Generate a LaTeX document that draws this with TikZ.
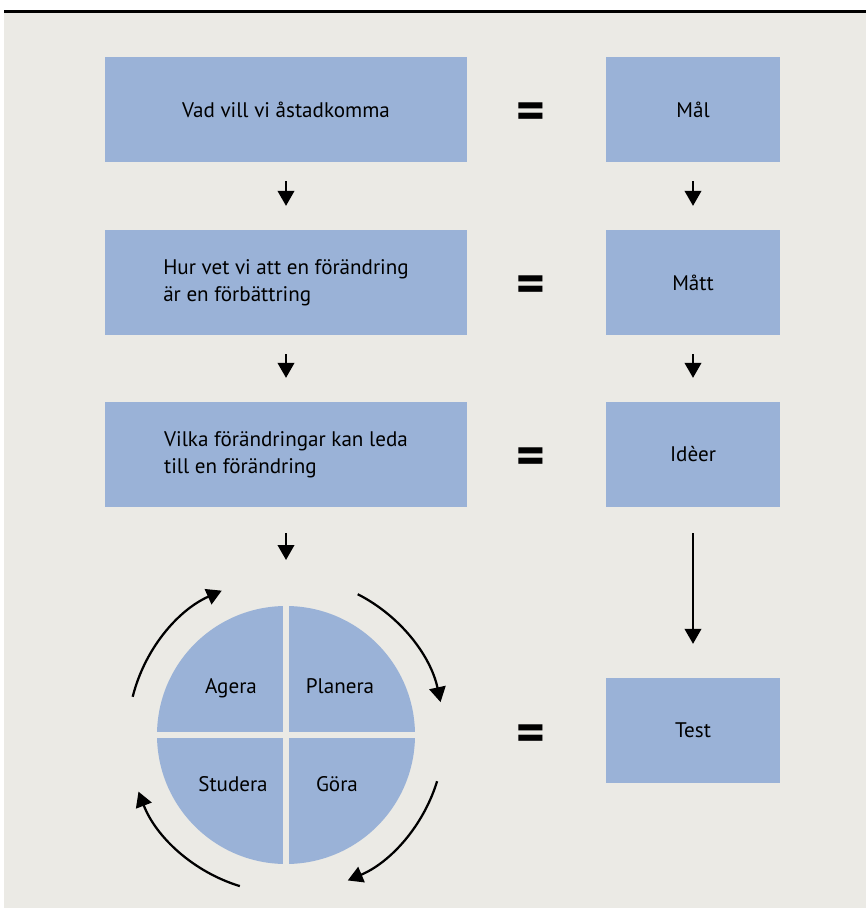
\documentclass[tikz,border=0pt]{standalone}
\usepackage{fontspec}
\setmainfont{PT Sans}
\usetikzlibrary{positioning,arrows.meta,calc}
\definecolor{boxblue}{HTML}{9AB2D7}
\definecolor{paper}{HTML}{EBEAE5}

\begin{document}
\begin{tikzpicture}[>={Triangle[length=3mm,width=3.3mm]}, line width=0.045cm,
  qbox/.style={fill=boxblue,minimum width=7.24cm,minimum height=2.1cm,inner sep=0pt,align=left,font=\fontsize{12}{15.4}\selectfont},
  abox/.style={fill=boxblue,minimum width=3.48cm,minimum height=2.1cm,inner sep=0pt,font=\fontsize{12}{15.4}\selectfont},
  eqsign/.style={inner sep=0pt,font=\fontsize{31}{31}\selectfont\bfseries},
  phase/.style={anchor=base,inner sep=0pt,font=\fontsize{12}{15.4}\selectfont}]
  \useasboundingbox (0,0) rectangle (17.32,-18.16);
  \fill[paper] (0.09,-0.24) rectangle (17.32,-18.16);
  \draw (0.09,-0.23) -- (17.32,-0.23);
  % questions and answers
  \node[qbox] (q1) at (5.72,-2.19) {Vad vill vi åstadkomma};
  \node[qbox] (q2) at (5.72,-5.65) {Hur vet vi att en förändring\\är en förbättring};
  \node[qbox] (q3) at (5.72,-9.09) {Vilka förändringar kan leda\\till en förändring};
  \node[abox] (a1) at (13.86,-2.19) {Mål};
  \node[abox] (a2) at (13.86,-5.65) {Mått};
  \node[abox] (a3) at (13.86,-9.09) {Idèer};
  \node[abox] (a4) at (13.86,-14.61) {Test};
  \foreach \i/\y in {1/-2.32,2/-5.78,3/-9.22,4/-14.76} { \node[eqsign] (e\i) at (10.62,\y) {=}; }
  % PDSA circle
  \coordinate (pdsa) at (5.72,-14.7);
  \coordinate (ptop) at (5.72,-12.12);
  \fill[boxblue] (pdsa) circle (2.58);
  \draw[paper,line width=0.12cm] ($(pdsa)+(-2.7,0)$) -- ($(pdsa)+(2.7,0)$);
  \draw[paper,line width=0.12cm] ($(pdsa)+(0,-2.7)$) -- ($(pdsa)+(0,2.7)$);
  \node[phase] (agera) at ($(pdsa)+(-1.1,0.84)$) {Agera};
  \node[phase] (planera) at ($(pdsa)+(1.08,0.84)$) {Planera};
  \node[phase] (studera) at ($(pdsa)+(-1.06,-1.12)$) {Studera};
  \node[phase] (gora) at ($(pdsa)+(1.02,-1.12)$) {Göra};
  \foreach \a/\b in {166/114,63/12,-17/-67,-107/-159} {
    \draw[->] ($(pdsa)+(\a:3.16)$) arc[start angle=\a,end angle=\b,radius=3.16];
  }
  % arrows
  \foreach \s/\t in {q1/q2,q2/q3,a1/a2,a2/a3} { \draw[->,shorten <=0.36cm,shorten >=0.46cm] (\s) -- (\t); }
  \draw[->,shorten <=0.5cm,shorten >=0.92cm] (q3) -- (ptop);
  \draw[->,shorten <=0.5cm,shorten >=0.66cm] (a3) -- (a4);
\end{tikzpicture}
\end{document}
